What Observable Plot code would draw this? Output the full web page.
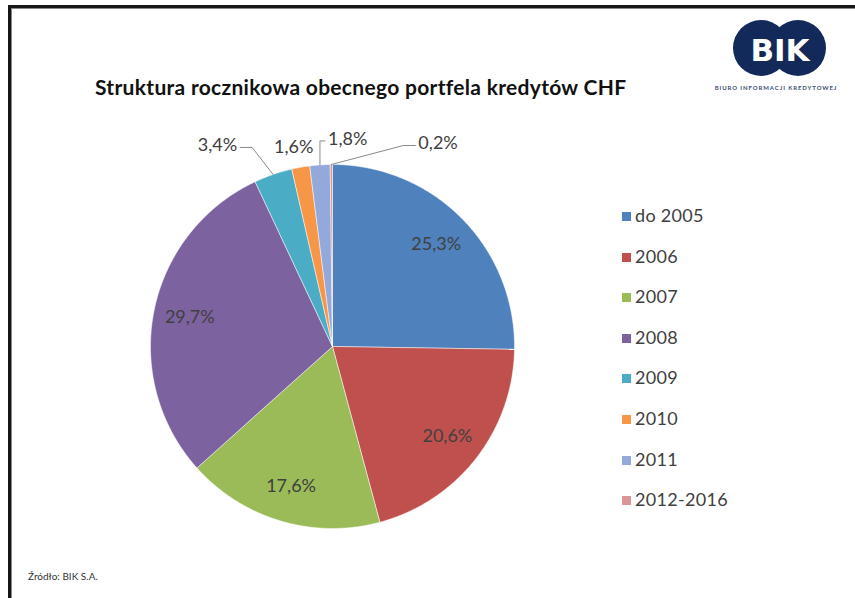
<!DOCTYPE html>
<html><head><meta charset="utf-8">
<script src="https://cdn.jsdelivr.net/npm/d3@7"></script>
<script src="https://cdn.jsdelivr.net/npm/@observablehq/plot@0.6"></script>
<style>
html,body{margin:0;padding:0;background:#fff;}
#page{position:relative;width:855px;height:598px;overflow:hidden;font-family:Lato,"Open Sans",sans-serif;background:#fff;}
#frame{position:absolute;left:8px;top:5px;width:900px;height:700px;border-top:3px solid #161616;border-left:3px solid #161616;box-shadow:inset 1px 1px 0 #888;}
#chart{position:absolute;left:0;top:0;}
#title{position:absolute;left:95px;top:74px;white-space:nowrap;font-weight:bold;font-size:21px;letter-spacing:0.3px;color:#111;}
#logo{position:absolute;left:700px;top:15px;}
#legend{position:absolute;left:622px;top:0;}
.item{position:absolute;left:0;white-space:nowrap;font-size:18px;letter-spacing:0.3px;color:#404040;line-height:20px;}
.sw{display:inline-block;width:9px;height:9px;margin-right:4px;vertical-align:1px;}
#source{position:absolute;left:28px;top:570px;font-size:10px;color:#333;}
</style></head><body>
<div id="page">
  <div id="frame"></div>
  <div id="chart"></div>
  <div id="title">Struktura rocznikowa obecnego portfela kredytów CHF</div>
  <svg id="logo" width="155" height="85" viewBox="700 15 155 85">
    <circle cx="761" cy="48" r="28" fill="#12295a"/>
    <circle cx="798" cy="48" r="28" fill="#12295a"/>
    <text x="780" y="61" text-anchor="middle" font-family="'DejaVu Sans', sans-serif" font-weight="bold" font-size="31" fill="#fff">BIK</text>
    <text x="776" y="90" text-anchor="middle" font-family="Lato, sans-serif" font-weight="bold" font-size="6" fill="#3a4f7a" letter-spacing="0.9">BIURO INFORMACJI KREDYTOWEJ</text>
  </svg>
  <div id="legend"></div>
  <div id="source">Źródło: BIK S.A.</div>
</div>
<script>
// ---- data ----
const categories = ["do 2005", "2006", "2007", "2008", "2009", "2010", "2011", "2012-2016"];
const shares = [25.3, 20.6, 17.6, 29.7, 3.4, 1.6, 1.8, 0.2];
const palette = ["#4f81bd", "#c0504d", "#9bbb59", "#7d62a0", "#4bacc6", "#f79646", "#93a9dc", "#d99694"];
const insideCats = ["do 2005", "2006", "2007", "2008"];

// ---- layout ----
const W = 855, H = 598, cx = 332, cy = 346, R = 182;
const outsideLayout = {
  "2009":      {dx: -36, dy: -29, anchor: "end",    leader: true},
  "2010":      {dx: -7,  dy: -20, anchor: "middle", leader: false},
  "2011":      {dx: 8,   dy: -26, anchor: "start",  leader: true},
  "2012-2016": {dx: 87,  dy: -21, anchor: "start",  leader: true}
};
const fmt = v => d3.format(".1f")(v).replace(".", ",") + "%";

const rows = categories.map((c, i) => ({cat: c, share: shares[i]}));
const arcs = d3.pie().sort(null).value(d => d.share).startAngle(0).endAngle(2 * Math.PI)(rows);

// slice polygons (data units: radius = 1, y up)
const slicePts = [];
for (const a of arcs) {
  const n = Math.max(2, Math.ceil((a.endAngle - a.startAngle) / (Math.PI / 360)));
  slicePts.push({cat: a.data.cat, x: 0, y: 0});
  for (let k = 0; k <= n; k++) {
    const t = a.startAngle + (a.endAngle - a.startAngle) * k / n;
    slicePts.push({cat: a.data.cat, x: Math.sin(t), y: Math.cos(t)});
  }
  slicePts.push({cat: a.data.cat, x: 0, y: 0});
}

const mid = a => (a.startAngle + a.endAngle) / 2;
const inside = arcs.filter(a => insideCats.includes(a.data.cat)).map(a => ({
  x: 0.8 * Math.sin(mid(a)), y: 0.8 * Math.cos(mid(a)), text: fmt(a.data.share)
}));

const outside = [], leaders = [];
for (const a of arcs) {
  const L = outsideLayout[a.data.cat];
  if (!L) continue;
  const ex = Math.sin(mid(a)), ey = Math.cos(mid(a));
  const lx = ex + L.dx / R, ly = ey - L.dy / R;
  outside.push({x: lx, y: ly, text: fmt(a.data.share), anchor: L.anchor});
  if (L.leader) {
    const dir = Math.sign(ex - lx);
    const sx = lx + dir * 3 / R, sy = ly - 2 / R;
    const ox = sx + dir * Math.min(12 / R, Math.abs(ex - sx));
    leaders.push({cat: a.data.cat, x: sx, y: sy}, {cat: a.data.cat, x: ox, y: sy}, {cat: a.data.cat, x: ex, y: ey});
  }
}

const labelStyle = {x: "x", y: "y", text: "text", fontSize: 18, fill: "#404040", letterSpacing: "0.5px"};
const chart = Plot.plot({
  width: W, height: H, margin: 0,
  x: {domain: [-cx / R, (W - cx) / R], axis: null},
  y: {domain: [-(H - cy) / R, cy / R], axis: null},
  color: {domain: categories, range: palette},
  style: {background: "transparent", fontFamily: "Lato, 'Open Sans', sans-serif"},
  marks: [
    Plot.line(slicePts, {x: "x", y: "y", z: "cat", fill: "cat", stroke: "white", strokeWidth: 0.5, strokeLinejoin: "round"}),
    Plot.text(inside, labelStyle),
    Plot.line(leaders, {x: "x", y: "y", z: "cat", stroke: "#8a8a8a", strokeWidth: 1}),
    Plot.text(outside.filter(d => d.anchor === "end"), {...labelStyle, textAnchor: "end"}),
    Plot.text(outside.filter(d => d.anchor === "middle"), labelStyle),
    Plot.text(outside.filter(d => d.anchor === "start"), {...labelStyle, textAnchor: "start"})
  ]
});
document.getElementById("chart").appendChild(chart);

// legend
const legend = document.getElementById("legend");
categories.forEach((c, i) => {
  const el = document.createElement("div");
  el.className = "item";
  el.style.top = (205 + i * 40.6) + "px";
  el.innerHTML = `<span class="sw" style="background:${palette[i]}"></span>${c}`;
  legend.appendChild(el);
});
</script>
</body></html>
